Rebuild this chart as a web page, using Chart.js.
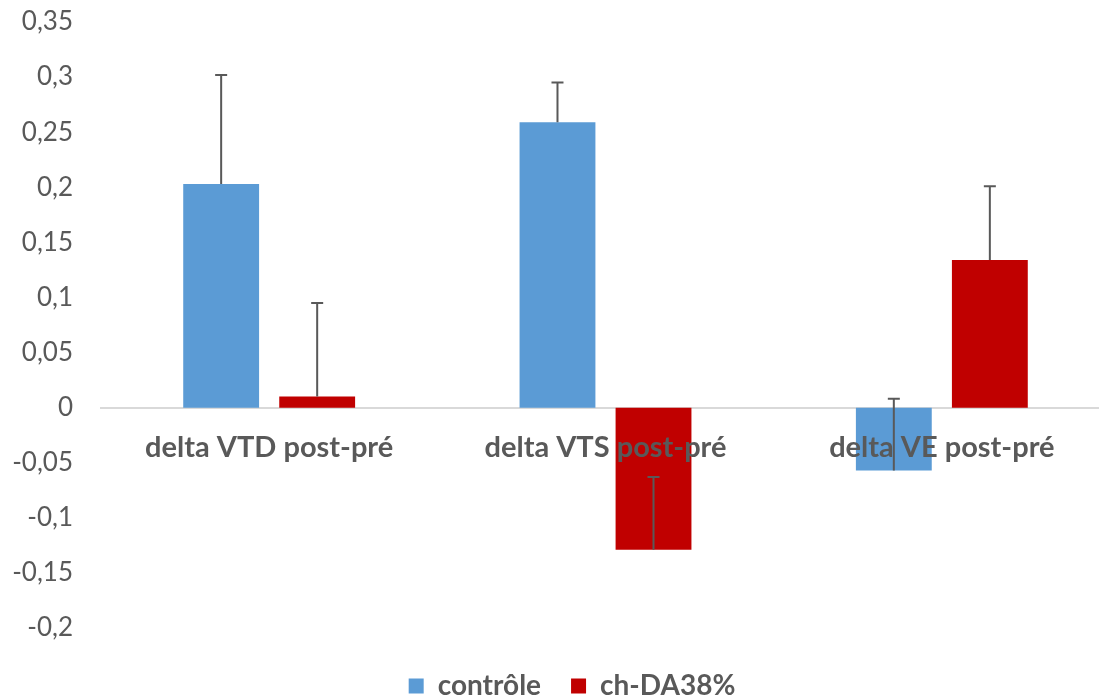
<!DOCTYPE html>
<html>
<head>
<meta charset="utf-8">
<script src="https://cdn.jsdelivr.net/npm/chart.js@4/dist/chart.umd.min.js"></script>
<style>
	html, body { margin: 0; padding: 0; background: #fff; overflow: hidden; }
	#wrap { width: 1110px; height: 697px; }
</style>
</head>
<body>
<div id="wrap"><canvas id="deltaChart"></canvas></div>
<script>
	// Données
	const categories = ['delta VTD post-pré', 'delta VTS post-pré', 'delta VE post-pré'];
	const controle = [0.203, 0.259, -0.057];
	const chDA = [0.010, -0.129, 0.134];
	const errControle = [0.099, 0.036, 0.065];
	const errChDA = [0.085, 0.066, 0.067];
	const yTicks = [-0.2, -0.15, -0.1, -0.05, 0, 0.05, 0.1, 0.15, 0.2, 0.25, 0.3, 0.35];

	const grey = '#595959';
	const fontName = 'Lato, "Open Sans", sans-serif';

	// barres d'erreur (sens positif seulement, comme dans Excel)
	const errorBars = {
		id: 'errorBars',
		afterDatasetsDraw(chart) {
			const ctx = chart.ctx;
			const y = chart.scales.y;
			const errs = [errControle, errChDA];
			ctx.save();
			ctx.strokeStyle = grey;
			ctx.lineWidth = 2;
			chart.data.datasets.forEach((ds, i) => {
				const meta = chart.getDatasetMeta(i);
				meta.data.forEach((bar, j) => {
					const v = ds.data[j];
					const y0 = y.getPixelForValue(v);
					const y1 = y.getPixelForValue(v + errs[i][j]);
					ctx.beginPath();
					ctx.moveTo(bar.x, y0);
					ctx.lineTo(bar.x, y1);
					ctx.moveTo(bar.x - 6, y1);
					ctx.lineTo(bar.x + 6, y1);
					ctx.stroke();
				});
			});
			ctx.restore();
		}
	};

	// la légende d'Excel est un peu décalée (à droite et vers le bas)
	const moveLegend = {
		id: 'moveLegend',
		afterLayout(chart) {
			const lg = chart.legend;
			lg.left += 17; lg.right += 17;
			lg.top += 14; lg.bottom += 14;
		}
	};

	const ctx1 = document.getElementById('deltaChart').getContext('2d');
	window.myChart = new Chart(ctx1, {
		type: 'bar',
		data: {
			labels: categories,
			datasets: [{
				label: 'contrôle',
				data: controle,
				backgroundColor: '#5B9BD5'
			}, {
				label: 'ch-DA38%',
				data: chDA,
				backgroundColor: '#C00000'
			}]
		},
		options: {
			responsive: true,
			maintainAspectRatio: false,
			animation: false,
			categoryPercentage: 0.571,
			barPercentage: 0.79,
			layout: {
				padding: { left: 0, right: 0, top: 22, bottom: 1 }
			},
			plugins: {
				tooltip: { enabled: false },
				legend: {
					position: 'bottom',
					labels: {
						boxWidth: 15,
						boxHeight: 15,
						padding: 30,
						color: grey,
						font: { family: fontName, size: 28, weight: 'bold' }
					}
				}
			},
			scales: {
				x: {
					position: { y: 0 },
					grid: { display: false },
					border: { display: true, color: '#d9d9d9', width: 2 },
					ticks: {
						z: 1, // texte par-dessus les barres
						padding: 15,
						color: grey,
						font: { family: fontName, size: 29, weight: 'bold' }
					}
				},
				y: {
					min: -0.2,
					max: 0.35,
					grid: { display: false, drawTicks: true, tickLength: 28 },
					border: { display: false },
					afterFit(scale) { scale.width = 101; },
					afterBuildTicks(scale) {
						scale.ticks = yTicks.map(v => ({ value: v }));
					},
					ticks: {
						padding: 0,
						color: grey,
						font: { family: fontName, size: 26 },
						callback: v => String(Math.round(v * 100) / 100).replace('.', ',')
					}
				}
			}
		},
		plugins: [errorBars, moveLegend]
	});
</script>
</body>
</html>
